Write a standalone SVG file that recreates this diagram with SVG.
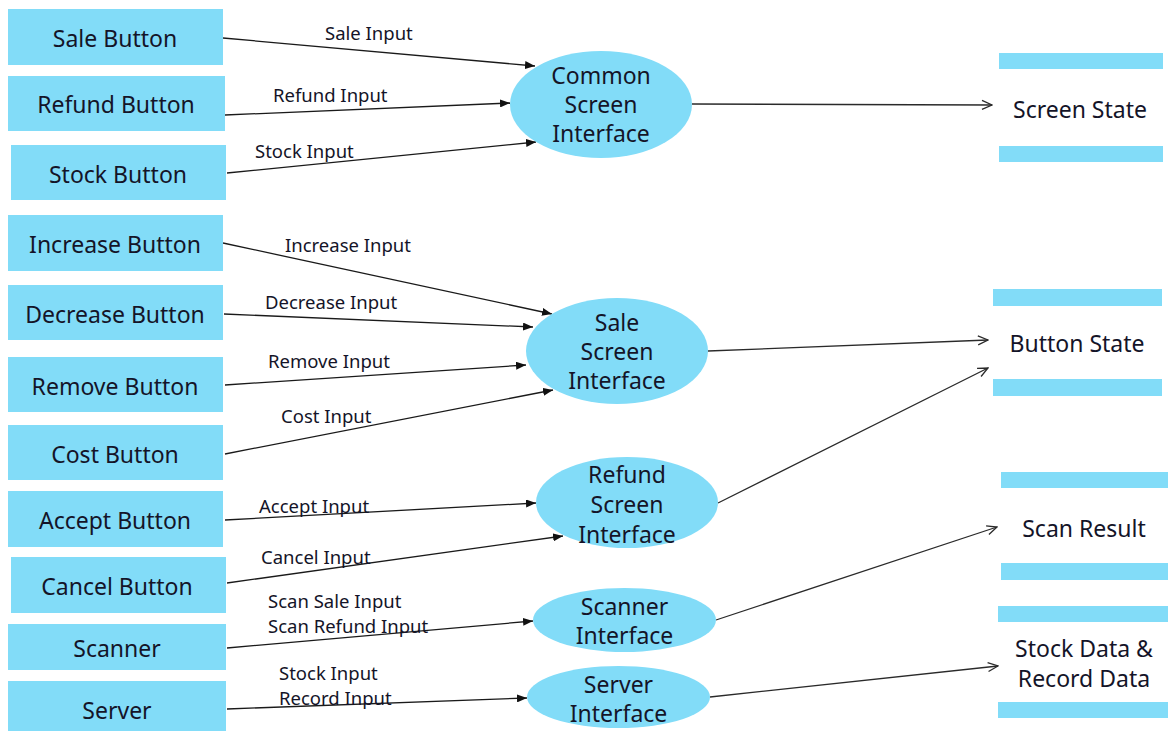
<svg xmlns="http://www.w3.org/2000/svg" width="1168" height="731" viewBox="0 0 1168 731">
  <style>
    .box { fill: #82dcf8; }
    .proc { fill: #82dcf8; }
    .bar { fill: #82dcf8; }
    .lbl { font-family: "Noto Sans", "Open Sans", sans-serif; font-size: 23px; fill: #141428; text-anchor: middle; }
    .elbl { font-family: "Noto Sans", "Open Sans", sans-serif; font-size: 18.5px; fill: #141428; }
    .in { stroke: #1a1a1a; stroke-width: 1.3; fill: none; marker-end: url(#solid); }
    .out { stroke: #2a2a2a; stroke-width: 1.3; fill: none; marker-end: url(#open); }
  </style>
  <defs>
    <marker id="solid" viewBox="0 0 10 8" refX="10" refY="4" markerWidth="10" markerHeight="8" markerUnits="userSpaceOnUse" orient="auto">
      <path d="M0,0 L10,4 L0,8 z" fill="#111"/>
    </marker>
    <marker id="open" viewBox="0 0 12 12" refX="11" refY="6" markerWidth="12" markerHeight="12" markerUnits="userSpaceOnUse" orient="auto">
      <path d="M1,1.5 L11,6 L1,10.5" fill="none" stroke="#2a2a2a" stroke-width="1.3"/>
    </marker>
  </defs>

  <rect width="1168" height="731" fill="#ffffff"/>

  <!-- connectors -->
  <g id="connectors">
    <line class="in" x1="223" y1="38" x2="535" y2="66"/>
    <line class="in" x1="225" y1="115" x2="510" y2="103"/>
    <line class="in" x1="227" y1="173" x2="536" y2="142"/>
    <line class="out" x1="692" y1="104" x2="992" y2="105"/>

    <line class="in" x1="223" y1="243" x2="552" y2="314"/>
    <line class="in" x1="224" y1="314" x2="533" y2="327"/>
    <line class="in" x1="225" y1="385" x2="526" y2="365"/>
    <line class="in" x1="225" y1="454" x2="553" y2="390"/>
    <line class="out" x1="708" y1="351" x2="988" y2="340"/>

    <line class="in" x1="225" y1="520" x2="536" y2="503"/>
    <line class="in" x1="227" y1="583" x2="563" y2="536"/>
    <line class="out" x1="718" y1="503" x2="988" y2="368"/>

    <line class="in" x1="227" y1="648" x2="533" y2="621"/>
    <line class="out" x1="716" y1="620" x2="997" y2="527"/>

    <line class="in" x1="227" y1="709" x2="527" y2="698"/>
    <line class="out" x1="710" y1="697" x2="998" y2="666"/>

    <!-- flow labels -->
    <text class="elbl" x="325" y="40">Sale Input</text>
    <text class="elbl" x="273" y="102">Refund Input</text>
    <text class="elbl" x="255" y="158">Stock Input</text>
    <text class="elbl" x="285" y="252">Increase Input</text>
    <text class="elbl" x="265" y="309">Decrease Input</text>
    <text class="elbl" x="268" y="368">Remove Input</text>
    <text class="elbl" x="281" y="423">Cost Input</text>
    <text class="elbl" x="259" y="513">Accept Input</text>
    <text class="elbl" x="261" y="564">Cancel Input</text>
    <text class="elbl" x="268" y="608">Scan Sale Input</text>
    <text class="elbl" x="268" y="633">Scan Refund Input</text>
    <text class="elbl" x="279" y="680">Stock Input</text>
    <text class="elbl" x="279" y="705">Record Input</text>
  </g>

  <!-- external entities -->
  <g id="sale-button"><rect class="box" x="8" y="9" width="215" height="56"/><text class="lbl" x="115" y="47">Sale Button</text></g>
  <g id="refund-button"><rect class="box" x="8" y="76" width="217" height="55"/><text class="lbl" x="116" y="113">Refund Button</text></g>
  <g id="stock-button"><rect class="box" x="11" y="145" width="215" height="55"/><text class="lbl" x="118" y="183">Stock Button</text></g>
  <g id="increase-button"><rect class="box" x="8" y="215" width="215" height="56"/><text class="lbl" x="115" y="253">Increase Button</text></g>
  <g id="decrease-button"><rect class="box" x="8" y="285" width="215" height="55"/><text class="lbl" x="115" y="323">Decrease Button</text></g>
  <g id="remove-button"><rect class="box" x="8" y="357" width="215" height="55"/><text class="lbl" x="115" y="395">Remove Button</text></g>
  <g id="cost-button"><rect class="box" x="8" y="425" width="215" height="55"/><text class="lbl" x="115" y="463">Cost Button</text></g>
  <g id="accept-button"><rect class="box" x="8" y="491" width="215" height="56"/><text class="lbl" x="115" y="529">Accept Button</text></g>
  <g id="cancel-button"><rect class="box" x="11" y="557" width="215" height="56"/><text class="lbl" x="117" y="595">Cancel Button</text></g>
  <g id="scanner"><rect class="box" x="8" y="624" width="218" height="46"/><text class="lbl" x="117" y="657">Scanner</text></g>
  <g id="server"><rect class="box" x="8" y="681" width="218" height="50"/><text class="lbl" x="117" y="719">Server</text></g>

  <!-- processes -->
  <g id="common-screen-interface">
    <ellipse class="proc" cx="601" cy="104.5" rx="91" ry="53.5"/>
    <text class="lbl" x="601" y="84">Common</text>
    <text class="lbl" x="601" y="113">Screen</text>
    <text class="lbl" x="601" y="142">Interface</text>
  </g>
  <g id="sale-screen-interface">
    <ellipse class="proc" cx="617" cy="351" rx="91" ry="53"/>
    <text class="lbl" x="617" y="331">Sale</text>
    <text class="lbl" x="617" y="360">Screen</text>
    <text class="lbl" x="617" y="389">Interface</text>
  </g>
  <g id="refund-screen-interface">
    <ellipse class="proc" cx="627" cy="502.5" rx="91" ry="45.5"/>
    <text class="lbl" x="627" y="483">Refund</text>
    <text class="lbl" x="627" y="513">Screen</text>
    <text class="lbl" x="627" y="543">Interface</text>
  </g>
  <g id="scanner-interface">
    <ellipse class="proc" cx="624.5" cy="620" rx="91.5" ry="32"/>
    <text class="lbl" x="624.5" y="615">Scanner</text>
    <text class="lbl" x="624.5" y="644">Interface</text>
  </g>
  <g id="server-interface">
    <ellipse class="proc" cx="618.5" cy="697" rx="91.5" ry="31"/>
    <text class="lbl" x="618.5" y="693">Server</text>
    <text class="lbl" x="618.5" y="722">Interface</text>
  </g>

  <!-- data stores -->
  <g id="screen-state">
    <rect class="bar" x="999" y="53" width="164" height="16"/>
    <rect class="bar" x="999" y="146" width="164" height="16"/>
    <text class="lbl" x="1080" y="118">Screen State</text>
  </g>
  <g id="button-state">
    <rect class="bar" x="993" y="289" width="169" height="17"/>
    <rect class="bar" x="993" y="379" width="169" height="17"/>
    <text class="lbl" x="1077" y="352">Button State</text>
  </g>
  <g id="scan-result">
    <rect class="bar" x="1001" y="472" width="167" height="16"/>
    <rect class="bar" x="1001" y="563" width="167" height="17"/>
    <text class="lbl" x="1084" y="537">Scan Result</text>
  </g>
  <g id="stock-record-data">
    <rect class="bar" x="998" y="606" width="170" height="16"/>
    <rect class="bar" x="998" y="702" width="170" height="16"/>
    <text class="lbl" x="1084" y="657">Stock Data &amp;</text>
    <text class="lbl" x="1084" y="687">Record Data</text>
  </g>
</svg>
